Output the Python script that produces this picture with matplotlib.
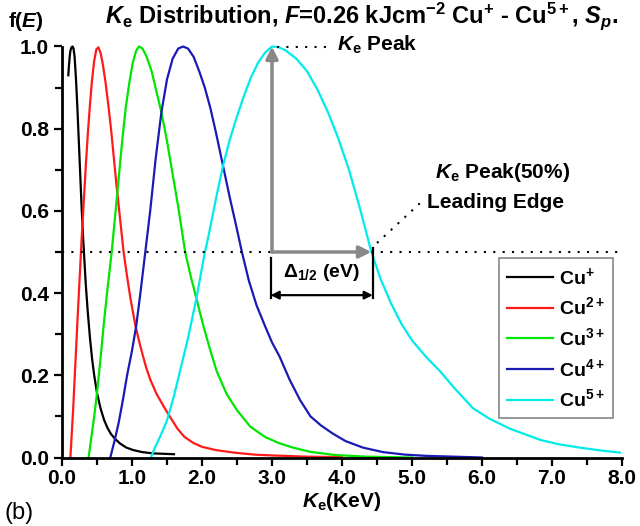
import matplotlib
matplotlib.use('Agg')
import matplotlib.pyplot as plt
from matplotlib.ticker import MultipleLocator, FormatStrFormatter

plt.rcParams['font.family'] = ['Liberation Sans', 'DejaVu Sans']
plt.rcParams['font.weight'] = 'bold'
plt.rcParams['mathtext.fontset'] = 'custom'
plt.rcParams['mathtext.rm'] = 'Liberation Sans:bold'
plt.rcParams['mathtext.it'] = 'Liberation Sans:bold:italic'
plt.rcParams['mathtext.bf'] = 'Liberation Sans:bold'

# values
cu1_x = [0.09, 0.10, 0.11, 0.12, 0.135, 0.15, 0.165, 0.18, 0.20, 0.22, 0.24, 0.26, 0.28, 0.30, 0.32, 0.34,
         0.37, 0.40, 0.43, 0.46, 0.50, 0.55, 0.60, 0.65, 0.70, 0.76, 0.83, 0.92, 1.02, 1.15, 1.30, 1.45, 1.60]
cu1_y = [0.93, 0.955, 0.975, 0.99, 0.998, 1.0, 0.995, 0.975, 0.92, 0.85, 0.77, 0.69, 0.61, 0.54, 0.48, 0.42,
         0.35, 0.29, 0.24, 0.20, 0.157, 0.12, 0.092, 0.072, 0.057, 0.045, 0.034, 0.024, 0.018, 0.013, 0.010, 0.009, 0.008]

cu2_x = [0.12, 0.14, 0.16, 0.18, 0.20, 0.22, 0.25, 0.28, 0.31, 0.34, 0.37, 0.40, 0.43, 0.46, 0.49, 0.52, 0.55,
         0.58, 0.62, 0.66, 0.70, 0.74, 0.78, 0.83, 0.88, 0.93, 0.98, 1.05, 1.12, 1.20, 1.26, 1.35, 1.45, 1.55,
         1.65, 1.75, 1.88, 2.00, 2.20, 2.45, 2.75, 3.00, 3.50, 4.00]
cu2_y = [0.0, 0.06, 0.12, 0.19, 0.26, 0.33, 0.43, 0.53, 0.62, 0.71, 0.79, 0.86, 0.92, 0.965, 0.993, 0.998, 0.985,
         0.96, 0.915, 0.86, 0.80, 0.73, 0.66, 0.58, 0.50, 0.44, 0.385, 0.32, 0.27, 0.22, 0.19, 0.155, 0.125, 0.097,
         0.07, 0.05, 0.035, 0.026, 0.018, 0.012, 0.007, 0.005, 0.002, 0.001]

cu3_x = [0.38, 0.42, 0.46, 0.50, 0.55, 0.60, 0.65, 0.71, 0.76, 0.81, 0.86, 0.91, 0.96, 1.01, 1.06, 1.10, 1.15,
         1.21, 1.28, 1.35, 1.42, 1.50, 1.58, 1.66, 1.76, 1.84, 1.92, 2.02, 2.12, 2.21, 2.35, 2.50, 2.69, 2.90,
         3.10, 3.30, 3.54, 3.90, 4.35, 5.00]
cu3_y = [0.0, 0.05, 0.10, 0.157, 0.24, 0.33, 0.41, 0.50, 0.59, 0.68, 0.77, 0.85, 0.91, 0.96, 0.99, 1.0, 0.995,
         0.975, 0.94, 0.89, 0.84, 0.77, 0.69, 0.61, 0.50, 0.44, 0.387, 0.32, 0.26, 0.21, 0.155, 0.115, 0.075, 0.05,
         0.035, 0.024, 0.014, 0.006, 0.002, 0.0]

cu4_x = [0.69, 0.75, 0.81, 0.87, 0.93, 1.00, 1.06, 1.12, 1.19, 1.26, 1.34, 1.42, 1.50, 1.58, 1.66, 1.73, 1.80,
         1.88, 1.96, 2.04, 2.12, 2.20, 2.30, 2.40, 2.48, 2.57, 2.67, 2.78, 2.90, 3.00, 3.11, 3.25, 3.40, 3.55,
         3.70, 3.87, 4.05, 4.30, 4.59, 4.90, 5.20, 5.60, 6.00]
cu4_y = [0.0, 0.04, 0.085, 0.14, 0.20, 0.26, 0.32, 0.40, 0.50, 0.60, 0.73, 0.84, 0.92, 0.97, 0.995, 1.0, 0.995,
         0.975, 0.94, 0.90, 0.85, 0.79, 0.71, 0.63, 0.57, 0.50, 0.43, 0.37, 0.32, 0.28, 0.245, 0.19, 0.14, 0.10,
         0.078, 0.058, 0.04, 0.024, 0.013, 0.007, 0.004, 0.002, 0.0]

cu5_x = [1.27, 1.33, 1.40, 1.50, 1.60, 1.70, 1.80, 1.92, 2.03, 2.10, 2.20, 2.30, 2.40, 2.50, 2.60, 2.70, 2.80,
         2.90, 3.00, 3.10, 3.20, 3.35, 3.50, 3.65, 3.80, 3.95, 4.10, 4.25, 4.42, 4.55, 4.70, 4.85, 5.00, 5.20,
         5.40, 5.60, 5.87, 6.10, 6.40, 6.83, 7.10, 7.40, 7.70, 7.97]
cu5_y = [0.0, 0.025, 0.05, 0.09, 0.15, 0.22, 0.29, 0.387, 0.49, 0.545, 0.63, 0.71, 0.775, 0.83, 0.88, 0.925, 0.96,
         0.985, 1.0, 0.998, 0.99, 0.97, 0.94, 0.895, 0.84, 0.775, 0.70, 0.61, 0.50, 0.435, 0.375, 0.325, 0.285, 0.245,
         0.21, 0.17, 0.12, 0.095, 0.07, 0.043, 0.032, 0.024, 0.017, 0.012]

labels = ['Cu$^{+}$', 'Cu$^{2+}$', 'Cu$^{3+}$', 'Cu$^{4+}$', 'Cu$^{5+}$']
colors = ['black', '#ff1a1a', '#00e600', '#1a1ab4', '#00ebeb']

peak_x = 3.0
half_x = 4.42
half_left = 2.98
half_right = 4.44

fig = plt.figure(figsize=(6.4, 5.26), dpi=100)
ax = fig.add_axes([62/640, 1-457.5/526, 560/640, 411/526])

for xs, ys, c, lab in zip([cu1_x, cu2_x, cu3_x, cu4_x, cu5_x],
                          [cu1_y, cu2_y, cu3_y, cu4_y, cu5_y], colors, labels):
    ax.plot(xs, ys, color=c, lw=1.6, label=lab, clip_on=False, solid_joinstyle='round')

ax.set_xlim(0, 8)
ax.set_ylim(0, 1.0)
for s in ['top', 'right']:
    ax.spines[s].set_visible(False)
for s in ['left', 'bottom']:
    ax.spines[s].set_linewidth(2)
ax.xaxis.set_major_locator(MultipleLocator(1))
ax.xaxis.set_minor_locator(MultipleLocator(0.5))
ax.yaxis.set_major_locator(MultipleLocator(0.2))
ax.yaxis.set_minor_locator(MultipleLocator(0.1))
ax.xaxis.set_major_formatter(FormatStrFormatter('%.1f'))
ax.yaxis.set_major_formatter(FormatStrFormatter('%.1f'))
ax.tick_params(which='major', direction='out', length=6, width=1.6, labelsize=15)
ax.tick_params(which='minor', direction='out', length=5, width=1.6)
ax.tick_params(axis='x', which='major', pad=2)

# half maximum line and annotations
ax.plot([0, 8], [0.5, 0.5], color='black', lw=1.5, ls=(0, (1, 3.5)), clip_on=False)
ax.plot([3.07, 3.87], [1.0, 1.0], color='black', lw=1.5, ls=(0, (1, 3.5)), clip_on=False)
ax.plot([4.50, 5.16], [0.522, 0.626], color='black', lw=1.5, ls=(0, (1, 3.5)))

ax.annotate('', xy=(peak_x, 1.0), xytext=(peak_x, 0.5),
            arrowprops=dict(arrowstyle='-|>', color='#888888', lw=2.5, shrinkA=0, shrinkB=0, mutation_scale=18))
ax.annotate('', xy=(half_x, 0.5), xytext=(peak_x, 0.5),
            arrowprops=dict(arrowstyle='-|>', color='#888888', lw=2.5, shrinkA=0, shrinkB=0, mutation_scale=18))

ax.plot([half_left, half_left], [0.485, 0.388], color='black', lw=1.6)
ax.plot([half_right, half_right], [0.51, 0.388], color='black', lw=1.6)
ax.annotate('', xy=(half_left, 0.395), xytext=(half_right, 0.395),
            arrowprops=dict(arrowstyle='<|-|>', color='black', lw=1.6, shrinkA=0, shrinkB=0, mutation_scale=12))
ax.text((half_left + half_right) / 2, 0.451, r'$\Delta_{1/2}$ (eV)', ha='center', va='center', fontsize=14)

ax.text(3.93, 0.989, r'$K_\mathrm{e}$ Peak', fontsize=15, va='baseline')
ax.text(5.33, 0.681, r'$K_\mathrm{e}$ Peak(50%)', fontsize=15, va='baseline')
ax.text(5.21, 0.607, 'Leading Edge', fontsize=15, va='baseline')

leg = ax.legend(loc='upper left', bbox_to_anchor=(0.780, 0.485), borderaxespad=0,
                fontsize=14, handlelength=2.4, labelspacing=0.45, handletextpad=0.3,
                fancybox=False, edgecolor='#888888', framealpha=1)
leg.get_frame().set_linewidth(1.2)

fig.text(8/640, 1-27/526, r'f($E$)', fontsize=15, va='baseline')
fig.text(105/640, 1-23/526, r'$K_\mathrm{e}$ Distribution, $F$=0.26 kJcm$^{-2}$ Cu$^{+}$ - Cu$^{5+}$, $S_p$.',
         fontsize=17, va='baseline')
fig.text(342/640, 1-507/526, r'$K_\mathrm{e}$(KeV)', fontsize=15, ha='center', va='baseline')
fig.text(5/640, 1-519/526, '(b)', fontsize=17, fontweight='normal', va='baseline')

plt.savefig('out.png', dpi=100)
